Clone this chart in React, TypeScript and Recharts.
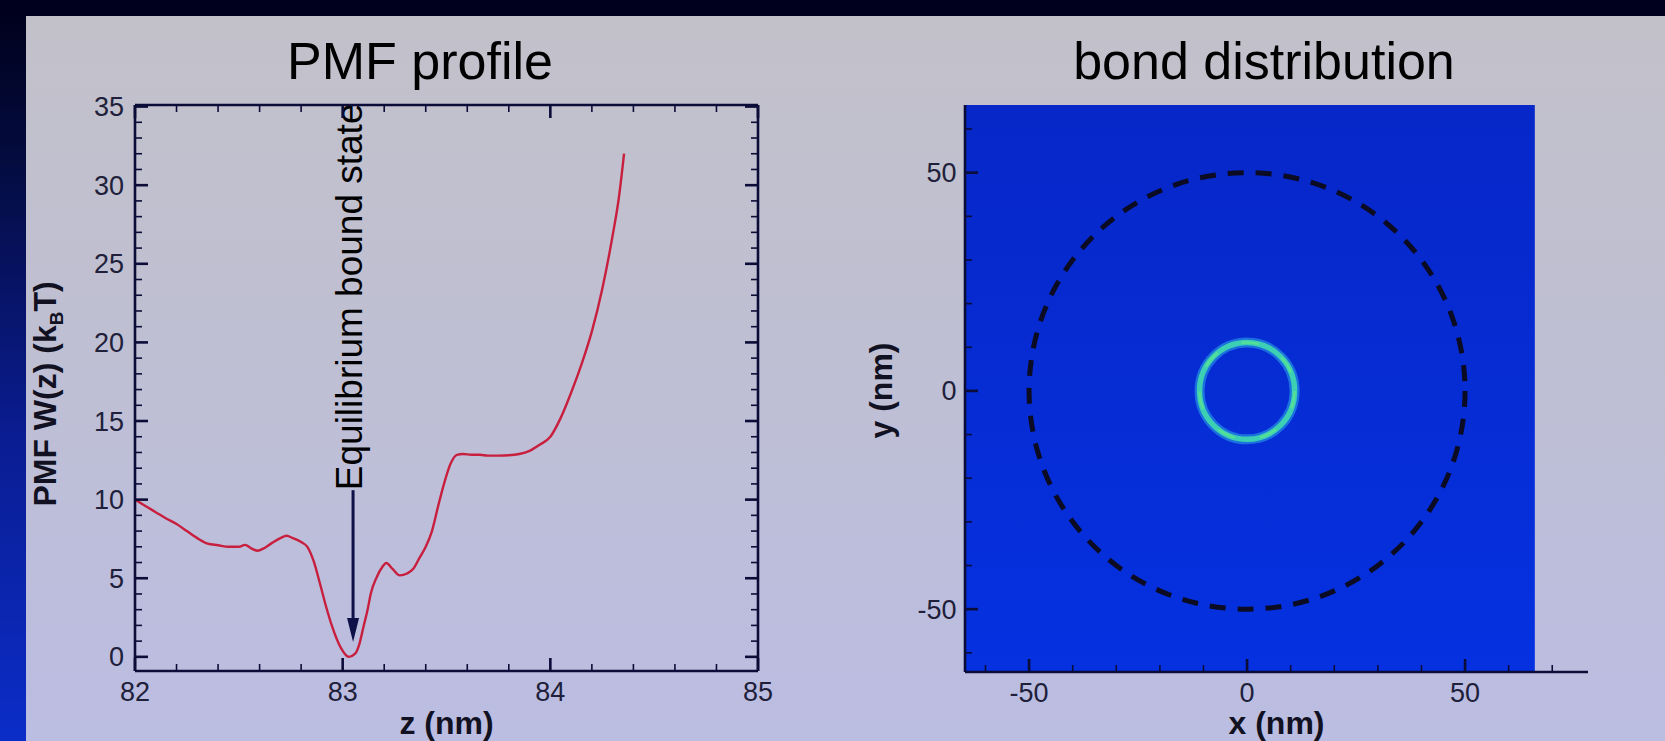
import React from "react";
import {
  LineChart,
  Line,
  XAxis,
  YAxis,
  ReferenceLine,
  ReferenceArea,
  ScatterChart,
} from "recharts";

// PMF profile
const zValues = [
  82.0, 82.05, 82.1, 82.15, 82.2, 82.25, 82.3, 82.35, 82.4, 82.45, 82.5, 82.53, 82.56, 82.59, 82.62, 82.66,
  82.7, 82.73, 82.76, 82.8, 82.83, 82.86, 82.89, 82.92, 82.95, 82.99, 83.03, 83.06, 83.08, 83.1, 83.12,
  83.135, 83.165, 83.19, 83.21, 83.24, 83.275, 83.31, 83.34, 83.37, 83.4, 83.43, 83.46, 83.49, 83.52, 83.55,
  83.58, 83.62, 83.66, 83.7, 83.75, 83.8, 83.85, 83.9, 83.95, 84.0, 84.05, 84.1, 84.15, 84.2, 84.25, 84.3,
  84.33, 84.355,
];
const pmfValues = [
  10.0, 9.6, 9.2, 8.8, 8.45, 8.0, 7.55, 7.2, 7.1, 7.0, 7.0, 7.12, 6.9, 6.75, 6.9, 7.25,
  7.55, 7.7, 7.55, 7.3, 7.0, 6.1, 4.7, 3.2, 1.9, 0.6, 0.0, 0.2, 0.8, 1.9, 3.0,
  4.0, 5.1, 5.7, 5.97, 5.6, 5.18, 5.3, 5.6, 6.3, 7.0, 8.0, 9.6, 11.1, 12.3, 12.85,
  12.9, 12.85, 12.85, 12.8, 12.8, 12.82, 12.9, 13.1, 13.5, 14.0, 15.2, 16.8, 18.6, 20.7, 23.4, 26.8,
  29.2, 32.0,
];
const zDomain = [82, 85];
const pmfDomain = [-0.9, 35.1];
const zMajorTicks = [82, 83, 84, 85];
const zMinorTicks = [82.2, 82.4, 82.6, 82.8, 83.2, 83.4, 83.6, 83.8, 84.2, 84.4, 84.6, 84.8];
const pmfMajorTicks = [0, 5, 10, 15, 20, 25, 30, 35];
const pmfMinorTicks = [
  1, 2, 3, 4, 6, 7, 8, 9, 11, 12, 13, 14, 16, 17, 18, 19, 21, 22, 23, 24, 26, 27, 28, 29, 31, 32, 33, 34,
];
const arrowZ = 83.05;
const arrowFrom = 10.6;
const arrowTo = 0.95;
const arrowText = "Equilibrium bound state";

// bond distribution map
const bondXDomain = [-64.7, 78.2];
const bondYDomain = [-64.4, 65.5];
const mapExtentX = [-64.7, 66];
const xyMajorTicks = [-50, 0, 50];
const xMinorTicks = [-60, -40, -30, -20, -10, 10, 20, 30, 40, 60, 70];
const yMinorTicks = [-60, -40, -30, -20, -10, 10, 20, 30, 40, 60];
const boundaryRadius = 50;
const ringRadiusX = 10.9;
const ringRadiusY = 11.1;

const pmfData = zValues.map((z, i) => ({ z, w: pmfValues[i] }));
const allTicks = (a: number[], b: number[]) => [...a, ...b].sort((p, q) => p - q);

const FONT = '"Liberation Sans", Arial, sans-serif';
const AXIS = "#0c0c38";
const TICK_TEXT = "#20203a";

const makeTick =
  (side: "bottom" | "top" | "left" | "right", majors: number[], labelGap = 11) =>
  (props: any) => {
    const { x, y, payload } = props;
    const v = payload.value;
    const major = majors.includes(v);
    const len = major ? 13 : 7;
    const sw = major ? 2.6 : 1.6;
    let line;
    let label = null;
    if (side === "bottom") {
      line = <line x1={x} y1={y} x2={x} y2={y - len} stroke={AXIS} strokeWidth={sw} />;
      if (major)
        label = (
          <text x={x} y={y + 29.5} textAnchor="middle" fontSize={27} fill={TICK_TEXT} fontFamily={FONT}>
            {v}
          </text>
        );
    } else if (side === "top") {
      line = <line x1={x} y1={y} x2={x} y2={y + len} stroke={AXIS} strokeWidth={sw} />;
    } else if (side === "left") {
      line = <line x1={x} y1={y} x2={x + len} y2={y} stroke={AXIS} strokeWidth={sw} />;
      if (major)
        label = (
          <text x={x - labelGap} y={y + 9.5} textAnchor="end" fontSize={27} fill={TICK_TEXT} fontFamily={FONT}>
            {v}
          </text>
        );
    } else {
      line = <line x1={x} y1={y} x2={x - len} y2={y} stroke={AXIS} strokeWidth={sw} />;
    }
    return (
      <g>
        {line}
        {label}
      </g>
    );
  };

const XTitle = (text: string) => (props: any) => {
  const vb = props.viewBox;
  return (
    <text x={vb.x + vb.width / 2} y={734} textAnchor="middle" fontSize={32} fontWeight="bold" fill="#111122" fontFamily={FONT}>
      {text}
    </text>
  );
};

const PmfYTitle = (props: any) => {
  const vb = props.viewBox;
  const cy = vb.y + vb.height / 2 + 6;
  return (
    <text transform={`translate(56,${cy}) rotate(-90)`} textAnchor="middle" fontSize={32} fontWeight="bold" fill="#111122" fontFamily={FONT}>
      PMF W(z) (k
      <tspan dy={7} fontSize={19}>B</tspan>
      <tspan dy={-7}>T)</tspan>
    </text>
  );
};

const BondYTitle = (props: any) => {
  const vb = props.viewBox;
  const cy = vb.y + vb.height / 2 + 2;
  return (
    <text transform={`translate(62,${cy}) rotate(-90)`} textAnchor="middle" fontSize={32} fontWeight="bold" fill="#111122" fontFamily={FONT}>
      y (nm)
    </text>
  );
};

const ArrowShape = (props: any) => {
  const { x1, y1, x2, y2 } = props;
  const head = 24;
  return (
    <g>
      <line x1={x1} y1={y1} x2={x2} y2={y2 - head + 4} stroke="#0e1048" strokeWidth={3} />
      <polygon points={`${x2},${y2} ${x2 - 6},${y2 - head} ${x2 + 6},${y2 - head}`} fill="#0e1048" />
      <text transform={`translate(${x1},${y1}) rotate(-90)`} x={0} y={9} fontSize={37} fill="#000" fontFamily={FONT}>
        {arrowText}
      </text>
    </g>
  );
};

const EllipseShape = (strokes: { color: string; width: number; dash?: string; opacity?: number }[]) => (props: any) => {
  const { x, y, width, height } = props;
  const cx = x + width / 2;
  const cy = y + height / 2;
  return (
    <g>
      {strokes.map((s, i) => (
        <ellipse
          key={i}
          cx={cx}
          cy={cy}
          rx={Math.abs(width) / 2}
          ry={Math.abs(height) / 2}
          fill="none"
          stroke={s.color}
          strokeWidth={s.width}
          strokeDasharray={s.dash}
          strokeOpacity={s.opacity ?? 1}
        />
      ))}
    </g>
  );
};

const PmfChart = () => (
  <LineChart width={830} height={741} data={pmfData} margin={{ top: 104, right: 71, bottom: 0, left: 0 }}>
    <XAxis
      xAxisId="b"
      dataKey="z"
      type="number"
      domain={zDomain}
      allowDataOverflow
      ticks={allTicks(zMajorTicks, zMinorTicks)}
      interval={0}
      height={70}
      tickSize={0}
      tickMargin={0}
      tickLine={false}
      axisLine={{ stroke: AXIS, strokeWidth: 2.6 }}
      tick={makeTick("bottom", zMajorTicks)}
      label={{ content: XTitle("z (nm)") }}
    />
    <XAxis
      xAxisId="t"
      dataKey="z"
      type="number"
      orientation="top"
      domain={zDomain}
      allowDataOverflow
      ticks={allTicks(zMajorTicks, zMinorTicks)}
      interval={0}
      height={1}
      tickSize={0}
      tickMargin={0}
      tickLine={false}
      axisLine={{ stroke: AXIS, strokeWidth: 2.6 }}
      tick={makeTick("top", zMajorTicks)}
    />
    <YAxis
      yAxisId="l"
      type="number"
      domain={pmfDomain}
      allowDataOverflow
      ticks={allTicks(pmfMajorTicks, pmfMinorTicks)}
      interval={0}
      width={135}
      tickSize={0}
      tickMargin={0}
      tickLine={false}
      axisLine={{ stroke: AXIS, strokeWidth: 2.6 }}
      tick={makeTick("left", pmfMajorTicks, 11)}
      label={{ content: PmfYTitle }}
    />
    <YAxis
      yAxisId="r"
      type="number"
      orientation="right"
      domain={pmfDomain}
      allowDataOverflow
      ticks={allTicks(pmfMajorTicks, pmfMinorTicks)}
      interval={0}
      width={1}
      tickSize={0}
      tickMargin={0}
      tickLine={false}
      axisLine={{ stroke: AXIS, strokeWidth: 2.6 }}
      tick={makeTick("right", pmfMajorTicks)}
    />
    <Line
      xAxisId="b"
      yAxisId="l"
      type="monotone"
      dataKey="w"
      stroke="#c81f3e"
      strokeWidth={2.4}
      dot={false}
      isAnimationActive={false}
    />
    <ReferenceLine
      xAxisId="b"
      yAxisId="l"
      segment={[
        { x: arrowZ, y: arrowFrom },
        { x: arrowZ, y: arrowTo },
      ]}
      shape={ArrowShape}
    />
  </LineChart>
);

const BondChart = () => (
  <ScatterChart width={835} height={741} margin={{ top: 105, right: 77, bottom: 0, left: 0 }}>
    <defs>
      <linearGradient id="bondBg" x1="0" y1="0" x2="0" y2="1">
        <stop offset="0%" stopColor="#0727c8" />
        <stop offset="100%" stopColor="#0531e0" />
      </linearGradient>
    </defs>
    <ReferenceArea
      xAxisId="x"
      yAxisId="y"
      x1={mapExtentX[0]}
      x2={mapExtentX[1]}
      y1={bondYDomain[0]}
      y2={bondYDomain[1]}
      fill="url(#bondBg)"
      fillOpacity={1}
      ifOverflow="extendDomain"
    />
    <ReferenceArea
      xAxisId="x"
      yAxisId="y"
      x1={-boundaryRadius}
      x2={boundaryRadius}
      y1={-boundaryRadius}
      y2={boundaryRadius}
      shape={EllipseShape([{ color: "#0b0b24", width: 5, dash: "16 12" }])}
    />
    <ReferenceArea
      xAxisId="x"
      yAxisId="y"
      x1={-ringRadiusX}
      x2={ringRadiusX}
      y1={-ringRadiusY}
      y2={ringRadiusY}
      shape={EllipseShape([
        { color: "#2a9ee6", width: 10, opacity: 0.6 },
        { color: "#3ccfb4", width: 5.5 },
        { color: "#5ce290", width: 2.5, dash: "18 26", opacity: 0.8 },
      ])}
    />
    <XAxis
      xAxisId="x"
      type="number"
      dataKey="x"
      domain={bondXDomain}
      allowDataOverflow
      ticks={allTicks(xyMajorTicks, xMinorTicks)}
      interval={0}
      height={69}
      tickSize={0}
      tickMargin={0}
      tickLine={false}
      axisLine={{ stroke: AXIS, strokeWidth: 2.6 }}
      tick={makeTick("bottom", xyMajorTicks)}
      label={{ content: XTitle("x (nm)") }}
    />
    <YAxis
      yAxisId="y"
      type="number"
      dataKey="y"
      domain={bondYDomain}
      allowDataOverflow
      ticks={allTicks(xyMajorTicks, yMinorTicks)}
      interval={0}
      width={135}
      tickSize={0}
      tickMargin={0}
      tickLine={false}
      axisLine={{ stroke: AXIS, strokeWidth: 2.6 }}
      tick={makeTick("left", xyMajorTicks, 8.5)}
      label={{ content: BondYTitle }}
    />
  </ScatterChart>
);

export default function App() {
  return (
    <div
      style={{
        position: "absolute",
        left: 0,
        top: 0,
        width: 1665,
        height: 741,
        overflow: "hidden",
        fontFamily: FONT,
        background: "linear-gradient(180deg, #00001a 0%, #040c40 22%, #0a1c90 58%, #0b2dc8 100%)",
      }}
    >
      <div style={{ position: "absolute", left: 0, top: 0, width: 1665, height: 16, background: "#00001e" }} />
      <div
        style={{
          position: "absolute",
          left: 26,
          top: 16,
          right: 0,
          bottom: 0,
          background: "linear-gradient(180deg, #c2c1ca 0%, #bfbfd3 45%, #bbbde2 100%)",
        }}
      />
      <div style={{ position: "absolute", left: 220, top: 35, width: 400, textAlign: "center", fontSize: 52, lineHeight: "52px", color: "#000" }}>
        PMF profile
      </div>
      <div style={{ position: "absolute", left: 1064, top: 35, width: 400, textAlign: "center", fontSize: 52, lineHeight: "52px", color: "#000" }}>
        bond distribution
      </div>
      <div style={{ position: "absolute", left: 0, top: 0 }}>
        <PmfChart />
      </div>
      <div style={{ position: "absolute", left: 830, top: 0 }}>
        <BondChart />
      </div>
    </div>
  );
}
